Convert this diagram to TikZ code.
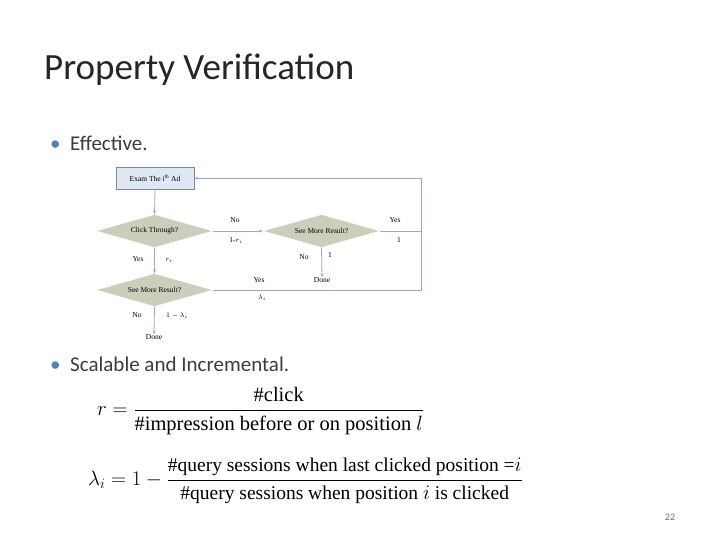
\documentclass[tikz,border=0pt]{standalone}
\usepackage{amsmath}
\usepackage{fontspec}
\setmainfont{Liberation Serif}
\newfontfamily\calib{Carlito}
\usetikzlibrary{shapes.geometric,arrows.meta}
\definecolor{txt}{RGB}{60,60,60}
\definecolor{bul}{RGB}{79,129,189}
\definecolor{dfill}{RGB}{203,206,186}
\definecolor{bfill}{RGB}{222,231,242}
\definecolor{lin}{RGB}{150,172,204}
\tikzset{
  dia/.style={diamond,aspect=3.5,draw=white,fill=dfill,inner sep=0pt,minimum width=117pt,minimum height=33pt,font=\fontsize{7.5}{9}\selectfont},
  fl/.style={draw=lin,line width=0.8pt},
  fla/.style={fl,-{Stealth[length=4pt,width=3pt]}},
  lab/.style={font=\fontsize{7.5}{8}\selectfont,inner sep=0pt},
  bull/.style={anchor=base west,font=\calib\fontsize{21}{24}\selectfont,text=txt,inner sep=0pt},
}
\begin{document}
\begin{tikzpicture}[x=1pt,y=-1pt]
\useasboundingbox[fill=white] (0,0) rectangle (720,540);
\node[anchor=base west,inner sep=0pt,font=\calib\fontsize{37}{42}\selectfont,text=black!85] (title) at (44,80) {Property Verification};
\node[anchor=base west,inner sep=0pt,text=bul,font=\calib\fontsize{21}{24}\selectfont] (b1) at (50,151) {•};
\node[bull] (t1) at (70,151) {Effective.};
\node[anchor=base west,inner sep=0pt,text=bul,font=\calib\fontsize{21}{24}\selectfont] (b2) at (50,371) {•};
\node[bull] (t2) at (70,371) {Scalable and Incremental.};
% flowchart
\node[draw=lin!80!black,fill=bfill,minimum width=78pt,minimum height=22pt,inner sep=0pt,font=\fontsize{7.5}{9}\selectfont] (exam) at (155,178) {Exam The i\textsuperscript{th} Ad};
\node[dia] (click) at (154.5,231) {Click Through?};
\node[dia] (more1) at (321.5,231) {See More Result?};
\node[dia] (more2) at (154.5,290) {See More Result?};
\node[lab] (done1) at (322,280) {Done};
\node[lab] (done2) at (154,337) {Done};
\coordinate (c1) at (421,231);
\coordinate (c2) at (421,178);
\coordinate (c3) at (421,290);
\draw[fla] (exam.south) -- (click.north);
\draw[fla] (click.east) -- (more1.west);
\draw[fla] (click.south) -- (more2.north);
\draw[fla] (more1.south) -- (done1.north);
\draw[fla] (more2.south) -- (done2.north);
\draw[fl] (more1.east) -- (c1);
\draw[fl] (more2.east) -- (c3) -- (c2);
\draw[fla] (c2) -- (exam.east);
\node[lab] (l1) at (235,220) {No};
\node[lab] (l2) at (236,241) {1-$r_i$};
\node[lab] (l3) at (395,220) {Yes};
\node[lab] (l4) at (399,240) {1};
\node[lab] (l5) at (304,257) {No};
\node[lab] (l6) at (330,255) {1};
\node[lab] (l7) at (138,259) {Yes};
\node[lab] (l8) at (169,260) {$r_i$};
\node[lab] (l9) at (259,280) {Yes};
\node[lab] (l10) at (262,298) {$\lambda_i$};
\node[lab] (l11) at (137,315) {No};
\node[lab] (l12) at (177,316) {$1-\lambda_i$};
% formulas
\node[anchor=west,inner sep=0pt,font=\fontsize{20.5}{24}\selectfont] (f1) at (97,411)
 {$r=\dfrac{\text{\#click}}{\text{\#impression before or on position } l}$};
\node[anchor=west,inner sep=0pt,font=\fontsize{19.5}{24}\selectfont] (f2) at (88,481)
 {$\lambda_i=1-\dfrac{\text{\#query sessions when last clicked position =}i}{\text{\#query sessions when position } i \text{ is clicked}}$};
\node[anchor=base,inner sep=0pt,font=\calib\fontsize{10}{12}\selectfont,text=black!55] (pg) at (670,520) {22};
\end{tikzpicture}
\end{document}
